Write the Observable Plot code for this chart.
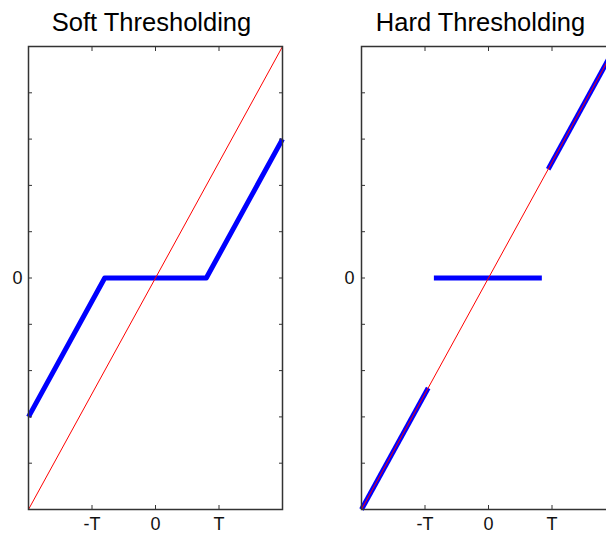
<!DOCTYPE html>
<html>
<head>
<meta charset="utf-8">
<script src="https://cdn.jsdelivr.net/npm/d3@7"></script>
<script src="https://cdn.jsdelivr.net/npm/@observablehq/plot@0.6"></script>
<style>
  html, body { margin: 0; padding: 0; background: #fff; overflow: hidden; width: 606px; height: 533px; }
  #wrap { position: relative; width: 660px; height: 533px; }
  #wrap svg { position: absolute; top: 0; max-width: none !important; font-family: "Liberation Sans", Arial, sans-serif; }
</style>
</head>
<body>
<div id="wrap"></div>
<script>
// ---- data ----
const titles = ["Soft Thresholding", "Hard Thresholding"];
const xTickValues = [-1, 0, 1];
const xTickLabels = ["-T", "0", "T"];
const yTickValues = [-1.6, -1.2, -0.8, -0.4, 0, 0.4, 0.8, 1.2, 1.6];
const yTickLabels = ["", "", "", "", "0", "", "", "", ""];
const identityX = [-2, 2];
const identityY = [-2, 2];
const softX = [-2, -0.8, 0.8, 2];
const softY = [-1.2, 0, 0, 1.2];
const hardSeg = [0, 0, 1, 1, 2, 2];
const hardX = [-2, -0.95, -0.86, 0.84, 0.94, 2];
const hardY = [-2, -0.95, 0, 0, 0.94, 2];

const identity = identityX.map((x, i) => ({x, y: identityY[i]}));
const soft = softX.map((x, i) => ({x, y: softY[i]}));
const hard = hardX.map((x, i) => ({x, y: hardY[i], s: hardSeg[i]}));

const xFmt = v => xTickLabels[xTickValues.indexOf(v)];
const yFmt = v => yTickLabels[yTickValues.findIndex(t => Math.abs(t - v) < 1e-9)];

function panel(title, blue, z, titleDx, labelPad) {
  return Plot.plot({
    width: 300,
    height: 533,
    marginLeft: 28,
    marginRight: 18,
    marginTop: 46,
    marginBottom: 24,
    x: {domain: [-2, 2], label: null},
    y: {domain: [-2, 2], label: null},
    style: {fontFamily: "Liberation Sans, Arial, sans-serif", color: "#222"},
    marks: [
      Plot.line(blue, {x: "x", y: "y", z, stroke: "#0000ff", strokeWidth: 5, strokeLinecap: "butt"}),
      Plot.line(identity, {x: "x", y: "y", stroke: "#ff0000", strokeWidth: 1}),
      Plot.frame({stroke: "#333", strokeWidth: 1.5}),
      Plot.axisX(xTickValues, {anchor: "bottom", tickSize: -4, tickPadding: 12, tickFormat: xFmt, fontSize: 18, stroke: "#333", fill: "#111", label: null}),
      Plot.axisX(xTickValues, {anchor: "top", tickSize: -4, tickFormat: () => "", stroke: "#333", label: null}),
      Plot.axisY(yTickValues, {anchor: "left", tickSize: -4, tickPadding: labelPad + 4, tickFormat: yFmt, fontSize: 18, stroke: "#333", fill: "#111", label: null}),
      Plot.axisY(yTickValues, {anchor: "right", tickSize: -4, tickFormat: () => "", stroke: "#333", label: null}),
      Plot.text([title], {frameAnchor: "top", lineAnchor: "top", dy: -34, dx: titleDx, fontSize: 25.5, fill: "#000"})
    ]
  });
}

const wrap = document.getElementById("wrap");
const left = panel(titles[0], soft, null, -4, 6);
left.style.left = "0px";
wrap.appendChild(left);
const right = panel(titles[1], hard, "s", -8, 7);
right.style.left = "333px";
wrap.appendChild(right);
</script>
</body>
</html>
